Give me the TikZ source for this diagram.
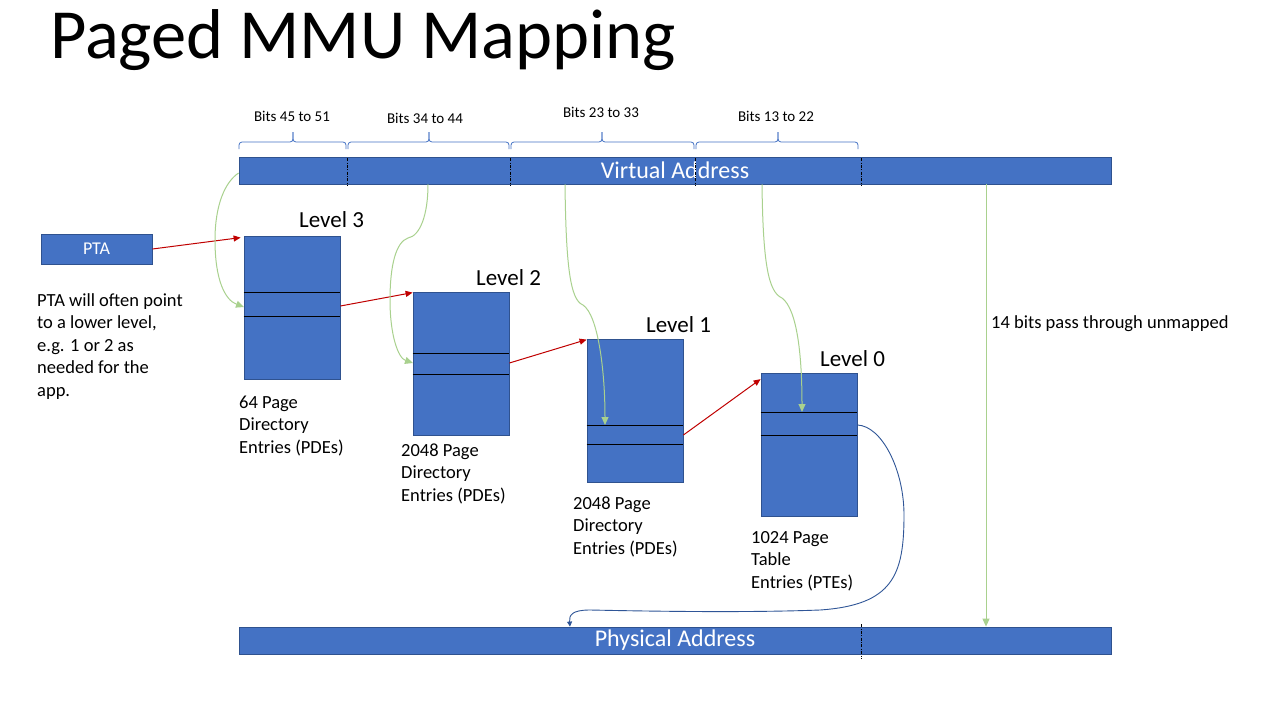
\documentclass[tikz,border=0pt]{standalone}
\usepackage{fontspec}
\setmainfont{Carlito}
\usetikzlibrary{arrows.meta}
\definecolor{bfill}{HTML}{4472C4}
\definecolor{bdr}{HTML}{2F528F}
\definecolor{grn}{HTML}{A9D18E}
\definecolor{rd}{HTML}{C00000}
\definecolor{crv}{HTML}{2F5597}
\begin{document}
\begin{tikzpicture}[x=1pt,y=-1pt,
  blk/.style={draw=bdr, fill=bfill, line width=0.8pt, inner sep=0pt, text=white},
  tbl/.style={blk, minimum width=96pt, minimum height=143pt},
  entry/.style={black, line width=0.9pt},
  divline/.style={black, line width=0.7pt, dash pattern=on 3pt off 1.5pt on 0.8pt off 1.5pt},
  brc/.style={bfill, line width=0.8pt, rounded corners=3pt},
  bitlbl/.style={anchor=base, inner sep=0pt, font=\fontsize{15}{18}\selectfont},
  lvl/.style={anchor=base west, inner sep=0pt, font=\fontsize{23}{27}\selectfont},
  body/.style={anchor=base west, align=left, inner sep=0pt, font=\fontsize{18.5}{22.5}\selectfont},
  redarr/.style={rd, line width=1pt, -{Triangle[length=7pt,width=6pt]}},
  grnarr/.style={grn, line width=1pt, -{Triangle[length=8pt,width=7pt]}},
  crvarr/.style={crv, line width=0.9pt, -{Triangle[length=5pt,width=5pt]}}
]
\useasboundingbox (0,0) rectangle (1280,720);
\fill[white] (0,0) rectangle (1280,720);

% title
\node[anchor=base west, inner sep=0pt, font=\fontsize{70.5}{84}\selectfont] (title) at (50,58) {Paged MMU Mapping};

% bit labels and braces
\node[bitlbl] (b1) at (292,121) {Bits 45 to 51};
\node[bitlbl] (b2) at (425,123) {Bits 34 to 44};
\node[bitlbl] (b3) at (601,117) {Bits 23 to 33};
\node[bitlbl] (b4) at (776,121) {Bits 13 to 22};
\draw[brc] (239,149) -- (239,142) -- (293,142) -- (293,132);
\draw[brc] (346,149) -- (346,142) -- (293,142) -- (293,132);
\draw[brc] (348,149) -- (348,142) -- (429,142) -- (429,132);
\draw[brc] (509,149) -- (509,142) -- (429,142) -- (429,132);
\draw[brc] (511,149) -- (511,142) -- (602,142) -- (602,132);
\draw[brc] (694,149) -- (694,142) -- (602,142) -- (602,132);
\draw[brc] (696,149) -- (696,142) -- (778,142) -- (778,132);
\draw[brc] (858,149) -- (858,142) -- (778,142) -- (778,132);

% virtual address bar
\node[blk, minimum width=872pt, minimum height=27pt, font=\fontsize{24}{28}\selectfont] (VA) at (675,170.5) {Virtual Address};
\draw[divline] (347,158) -- (347,186);
\draw[divline] (510,158) -- (510,186);
\draw[divline] (695,158) -- (695,186);
\draw[divline] (861,158) -- (861,186);

% physical address bar
\node[blk, minimum width=872pt, minimum height=27pt, font=\fontsize{24}{28}\selectfont] (PA) at (675,640.5) {Physical Address};
\draw[divline] (861,624) -- (861,659);

% PTA
\node[blk, minimum width=111pt, minimum height=30pt, font=\fontsize{18}{22}\selectfont] (PTA) at (96.5,249) {PTA};
\node[body] (note) at (37,396) {PTA will often point\\to a lower level,\\e.g. 1 or 2 as\\needed for the\\app.};

% level tables
\node[tbl] (L3) at (292,307.5) {};
\node[tbl] (L2) at (461,363.5) {};
\node[tbl] (L1) at (635,410.5) {};
\node[tbl] (L0) at (809,445) {};

\draw[entry] (L3.west |- 0,292) -- (L3.east |- 0,292);
\draw[entry] (L3.west |- 0,316) -- (L3.east |- 0,316);
\draw[entry] (L2.west |- 0,353) -- (L2.east |- 0,353);
\draw[entry] (L2.west |- 0,374) -- (L2.east |- 0,374);
\draw[entry] (L1.west |- 0,425) -- (L1.east |- 0,425);
\draw[entry] (L1.west |- 0,444) -- (L1.east |- 0,444);
\draw[entry] (L0.west |- 0,412) -- (L0.east |- 0,412);
\draw[entry] (L0.west |- 0,435) -- (L0.east |- 0,435);

\node[lvl] (t3) at (299,227) {Level 3};
\node[lvl] (t2) at (476,285) {Level 2};
\node[lvl] (t1) at (646,332) {Level 1};
\node[lvl] (t0) at (820,366) {Level 0};

\node[body] (c3) at (239,453) {64 Page\\Directory\\Entries (PDEs)};
\node[body] (c2) at (401,501) {2048 Page\\Directory\\Entries (PDEs)};
\node[body] (c1) at (573,554) {2048 Page\\Directory\\Entries (PDEs)};
\node[body] (c0) at (751,588) {1024 Page\\Table\\Entries (PTEs)};

\node[body] (pass) at (991,328) {14 bits pass through unmapped};

% red pointers
\draw[redarr] (PTA.east) -- ([xshift=-3pt,yshift=-2pt]L3.north west);
\draw[redarr] (L3.east |- 0,306) -- ([yshift=-1pt]L2.north west);
\draw[redarr] (L2.east |- 0,363) -- ([yshift=-1pt]L1.north west);
\draw[redarr] (L1.east |- 0,435) -- ([yshift=-6pt]L0.north west);

% green index arrows
\coordinate (e3) at (244,307);
\coordinate (e2) at (413,363);
\coordinate (e1) at (605,425);
\coordinate (e0) at (802,412);
\draw[grnarr] (VA.west |- 0,173) .. controls (225,182) and (215,205) .. (215,240)
  .. controls (215,280) and (225,300) .. (e3);
\draw[grnarr] (VA.south -| 428,0) .. controls (428,215) and (420,236) .. (408,238)
  .. controls (396,242) and (390,265) .. (390,300)
  .. controls (390,335) and (398,358) .. (e2);
\draw[grnarr] (VA.south -| 565,0) .. controls (566,265) and (570,300) .. (583,305)
  .. controls (598,315) and (605,370) .. (e1);
\draw[grnarr] (VA.south -| 762,0) .. controls (763,262) and (768,292) .. (782,298)
  .. controls (798,310) and (802,360) .. (e0);
\draw[grnarr] (VA.south -| 986,0) -- (PA.north -| 986,0);

% page frame to physical address
\draw[crvarr] (L0.east |- 0,425) .. controls (882,426) and (904,470) .. (904,515)
  .. controls (904,575) and (893,605) .. (820,610)
  .. controls (740,613) and (640,611) .. (590,610)
  .. controls (572,610) and (569,615) .. (PA.north -| 570,0);
\end{tikzpicture}
\end{document}
